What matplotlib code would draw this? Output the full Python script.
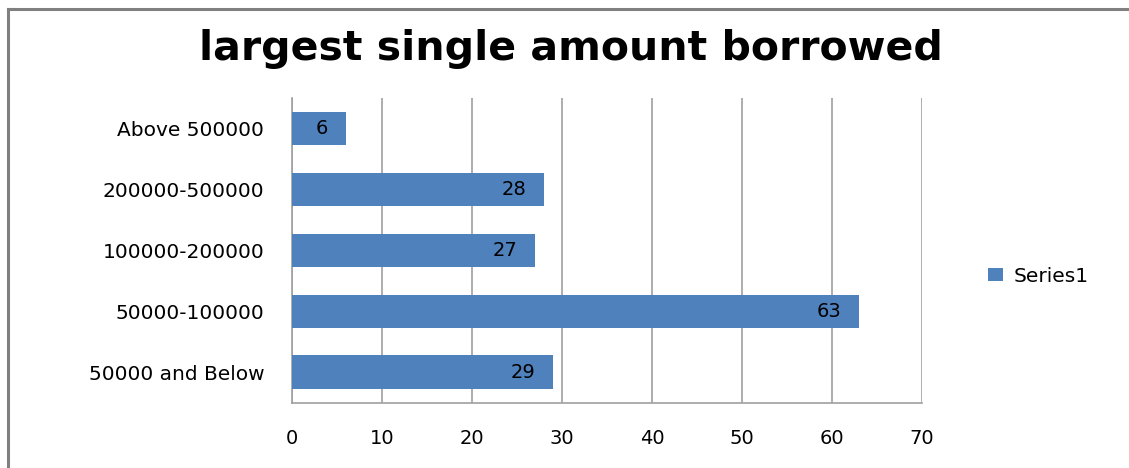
import matplotlib
matplotlib.use("Agg")
import matplotlib.pyplot as plt
from matplotlib.lines import Line2D
import numpy as np

categories = ["50000 and Below", "50000-100000", "100000-200000", "200000-500000", "Above 500000"]
values = [29, 63, 27, 28, 6]
xticks = [0, 10, 20, 30, 40, 50, 60, 70]
title = "largest single amount borrowed"
series_name = "Series1"

bar_color = "#4F81BD"
grid_color = "#A0A0A0"

plt.rcParams['font.family'] = ['DejaVu Sans']

fig = plt.figure(figsize=(11.29, 4.68), dpi=100)
ax = fig.add_axes([0.2586, 0.139, 0.8167 - 0.2586, 0.7906 - 0.139])

y = np.arange(len(categories))
bars = ax.barh(y, values, height=0.556, color=bar_color, zorder=3, label=series_name)

for b, v in zip(bars, values):
    ax.text(b.get_width() - 2.0, b.get_y() + b.get_height() / 2, str(v),
            ha='right', va='center', fontsize=14, color='black', zorder=4)

ax.set_xlim(0, 70)
ax.set_ylim(-0.5, len(categories) - 0.5)
ax.set_xticks(xticks)
ax.set_xticklabels([str(t) for t in xticks], fontsize=14)
ax.set_yticks(y)
ax.set_yticklabels(categories, fontsize=14.5)
ax.tick_params(axis='both', length=0)
ax.tick_params(axis='x', pad=19)
ax.tick_params(axis='y', pad=20)

ax.grid(True, axis='x', color=grid_color, linewidth=1.2, zorder=0)
for s in ['top', 'right']:
    ax.spines[s].set_visible(False)
for s in ['left', 'bottom']:
    ax.spines[s].set_color(grid_color)
    ax.spines[s].set_linewidth(1.2)

fig.text(0.506, 0.895, title, ha='center', va='center', fontsize=29.5, fontweight='bold')

ax.legend(loc='center left', bbox_to_anchor=(1.076, 0.416), frameon=False,
          fontsize=14.5, handlelength=0.75, handleheight=0.6, handletextpad=0.5)

# chart area border (left and top edges visible)
fig.add_artist(Line2D([0.0075, 0.0075], [0.0, 0.981], color='#808080', linewidth=2.2,
                      transform=fig.transFigure))
fig.add_artist(Line2D([0.0075, 1.0], [0.981, 0.981], color='#808080', linewidth=2.2,
                      transform=fig.transFigure))

fig.savefig("out.png", dpi=100)
